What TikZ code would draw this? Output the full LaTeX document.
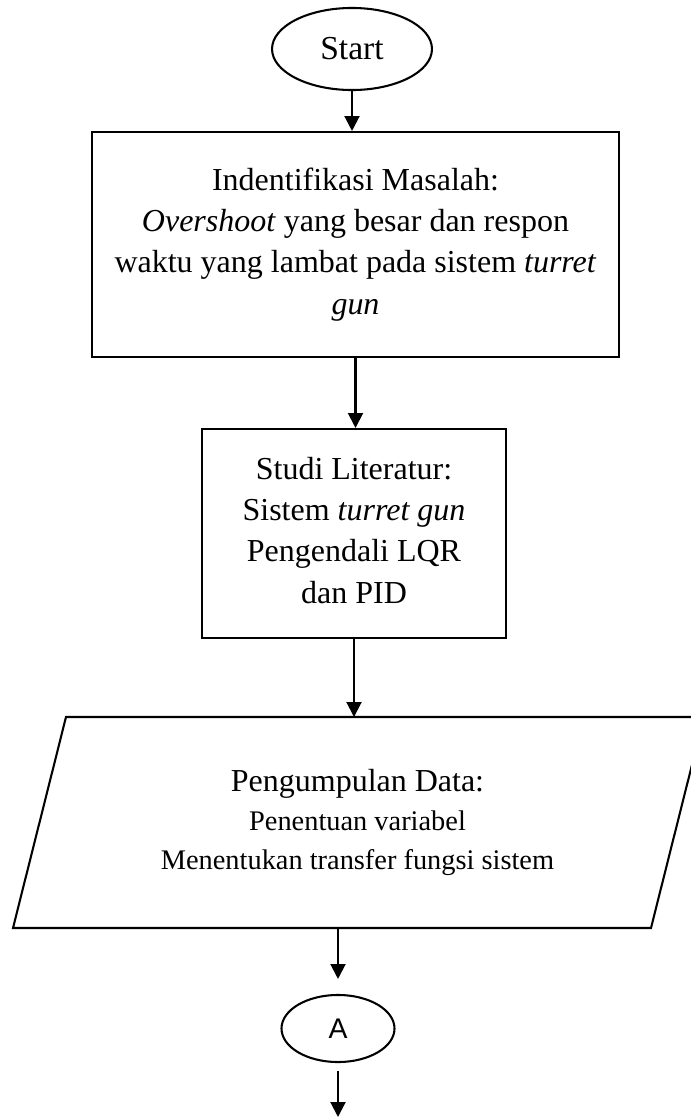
\documentclass[tikz,border=0pt]{standalone}
\usepackage{fontspec}
\setmainfont{Liberation Serif}
\newfontfamily\arialfont{Liberation Sans}
\usetikzlibrary{shapes.geometric,arrows.meta}

\begin{document}
\begin{tikzpicture}[x=0.3876pt,y=-0.3876pt,line width=0.8pt,
        >={Triangle[length=5.8pt,width=5.8pt]},
        every node/.style={font=\fontsize{12.4}{16}\selectfont,align=center,inner sep=0pt},
        terminal/.style={draw,ellipse},
        process/.style={draw,rectangle}]
    \useasboundingbox (0,0) rectangle (691,1118);
    % flowchart blocks
    \node[terminal,minimum width=62pt,minimum height=31.8pt,font=\fontsize{13}{15}\selectfont] (start) at (352,49) {Start};
    \node[process,minimum width=204.3pt,minimum height=87.2pt] (masalah) at (355.5,244.5)
        {Indentifikasi Masalah:\\ \textit{Overshoot} yang besar dan respon\\ waktu yang lambat pada sistem \textit{turret}\\ \textit{gun}};
    \node[process,minimum width=117.8pt,minimum height=81pt] (studi) at (354,533.5)
        {Studi Literatur:\\ Sistem \textit{turret gun}\\ Pengendali LQR\\ dan PID\vphantom{g}};
    % parallelogram drawn round the text node
    \coordinate (datatop) at (357.5,717);
    \coordinate (databot) at (357.5,928);
    \draw (13,928) -- (66,717) -- (704,717) -- (651,928) -- cycle;
    \node[font=\fontsize{11}{15.2}\selectfont] (data) at (357.5,822.5)
        {{\fontsize{12.4}{15.2}\selectfont Pengumpulan Data:}\\ Penentuan variabel\\ Menentukan transfer fungsi sistem};
    \node[terminal,minimum width=43.8pt,minimum height=26pt,font=\arialfont\fontsize{11}{13}\selectfont] (A) at (338,1028.5) {A};
    \coordinate (next) at (338,1117);
    % connectors
    \draw[->] (start.south) -- (start.south |- masalah.north);
    \draw[->] (masalah.south) -- (masalah.south |- studi.north);
    \draw[->] (studi.south) -- (studi.south |- datatop);
    \draw[->,shorten >=5.8pt] (A.north |- databot) -- (A.north);
    \draw[->,shorten <=3pt] (A.south) -- (next);
\end{tikzpicture}
\end{document}
